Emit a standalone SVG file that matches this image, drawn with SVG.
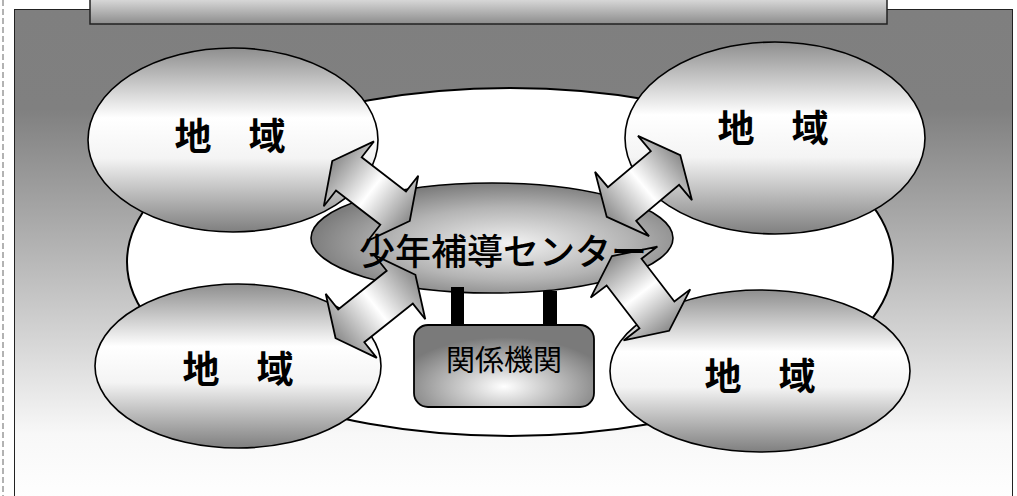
<svg xmlns="http://www.w3.org/2000/svg" width="1017" height="496" viewBox="0 0 1017 496">
<defs>
<linearGradient id="bg" x1="0" y1="0" x2="0" y2="1">
<stop offset="0" stop-color="#7f7f7f"/>
<stop offset="0.2" stop-color="#808080"/>
<stop offset="0.85" stop-color="#f8f8f8"/>
<stop offset="1" stop-color="#ffffff"/>
</linearGradient>
<linearGradient id="ban" x1="0" y1="0" x2="0" y2="1">
<stop offset="0" stop-color="#e6e6e6"/>
<stop offset="1" stop-color="#8c8c8c"/>
</linearGradient>
<linearGradient id="reg" x1="0" y1="0" x2="0" y2="1">
<stop offset="0" stop-color="#8e8e8e"/>
<stop offset="0.38" stop-color="#ffffff"/>
<stop offset="0.6" stop-color="#f4f4f4"/>
<stop offset="1" stop-color="#7f7f7f"/>
</linearGradient>
<radialGradient id="ctr" cx="0.55" cy="0.55" r="0.55">
<stop offset="0" stop-color="#f2f2f2"/>
<stop offset="0.6" stop-color="#b4b4b4"/>
<stop offset="1" stop-color="#7d7d7d"/>
</radialGradient>
<radialGradient id="box" cx="0.5" cy="0.75" r="0.6">
<stop offset="0" stop-color="#ffffff"/>
<stop offset="1" stop-color="#7a7a7a"/>
</radialGradient>
<linearGradient id="arr" x1="0" y1="0" x2="1" y2="0">
<stop offset="0" stop-color="#8a8a8a"/>
<stop offset="0.5" stop-color="#ffffff"/>
<stop offset="1" stop-color="#8a8a8a"/>
</linearGradient>
</defs>
<style>
.ol{stroke:#000;stroke-width:1.6}
.reg{fill:url(#reg)}
.arr{fill:url(#arr);stroke:#000;stroke-width:1.8;stroke-linejoin:miter}
.rt{font-family:"Noto Sans CJK JP","Noto Sans CJK SC",sans-serif;font-weight:bold;font-size:37px;text-anchor:middle;fill:#000}
.ct{font-family:"Noto Sans CJK JP","Noto Sans CJK SC",sans-serif;font-weight:500;font-size:36px;text-anchor:middle;fill:#000}
.bt{font-family:"Noto Sans CJK JP","Noto Sans CJK SC",sans-serif;font-size:29px;text-anchor:middle;fill:#000}
</style>
<g id="background">
<line x1="3" y1="0" x2="3" y2="496" stroke="#666" stroke-width="1" stroke-dasharray="6,3"/>
<rect x="14.5" y="9.5" width="998" height="500" fill="url(#bg)" stroke="#222" stroke-width="1"/>
<rect x="90" y="-5" width="797" height="29" fill="url(#ban)" stroke="#222" stroke-width="1.5"/>
</g>
<g id="network">
<ellipse cx="510" cy="262" rx="383" ry="174" fill="#fff" stroke="#000" stroke-width="2"/>
</g>
<g id="region-tl">
<ellipse class="reg ol" cx="233" cy="140" rx="145" ry="92"/>
<text class="rt" x="230" y="150">地　域</text>
</g>
<g id="region-tr">
<ellipse class="reg ol" cx="775" cy="138" rx="150" ry="96"/>
<text class="rt" x="773" y="142">地　域</text>
</g>
<g id="region-bl">
<ellipse class="reg ol" cx="238" cy="366" rx="143" ry="82"/>
<text class="rt" x="238" y="383">地　域</text>
</g>
<g id="region-br">
<ellipse class="reg ol" cx="760" cy="371" rx="150" ry="81"/>
<text class="rt" x="760" y="390">地　域</text>
</g>
<g id="center">
<ellipse cx="492" cy="238" rx="181" ry="55" fill="url(#ctr)" class="ol"/>
</g>
<g id="agencies">
<rect x="451" y="287" width="13" height="40" fill="#000"/>
<rect x="543" y="291" width="14" height="36" fill="#000"/>
<rect x="414" y="325" width="180" height="82" rx="14" fill="url(#box)" stroke="#000" stroke-width="1.8"/>
<text class="bt" x="504" y="371">関係機関</text>
</g>
<g id="connectors">
<path class="arr" transform="translate(371,191) rotate(37.7)" d="M-49,0 L-28,-41 L-28,-21 L28,-21 L28,-41 L49,0 L28,41 L28,21 L-28,21 L-28,41 Z"/>
<path class="arr" transform="translate(643.5,186) rotate(-40)" d="M-48,0 L-28,-42 L-28,-22 L28,-22 L28,-42 L48,0 L28,42 L28,22 L-28,22 L-28,42 Z"/>
<path class="arr" transform="translate(375.5,306.5) rotate(-38.5)" d="M-51,0 L-31,-41 L-31,-21 L31,-21 L31,-41 L51,0 L31,41 L31,21 L-31,21 L-31,41 Z"/>
<path class="arr" transform="translate(640.5,293.5) rotate(52.5)" d="M-47,0 L-27,-42 L-27,-22 L27,-22 L27,-42 L47,0 L27,42 L27,22 L-27,22 L-27,42 Z"/>
</g>
<g id="center-label">
<text class="ct" x="503" y="265">少年補導センター</text>
</g>
</svg>
